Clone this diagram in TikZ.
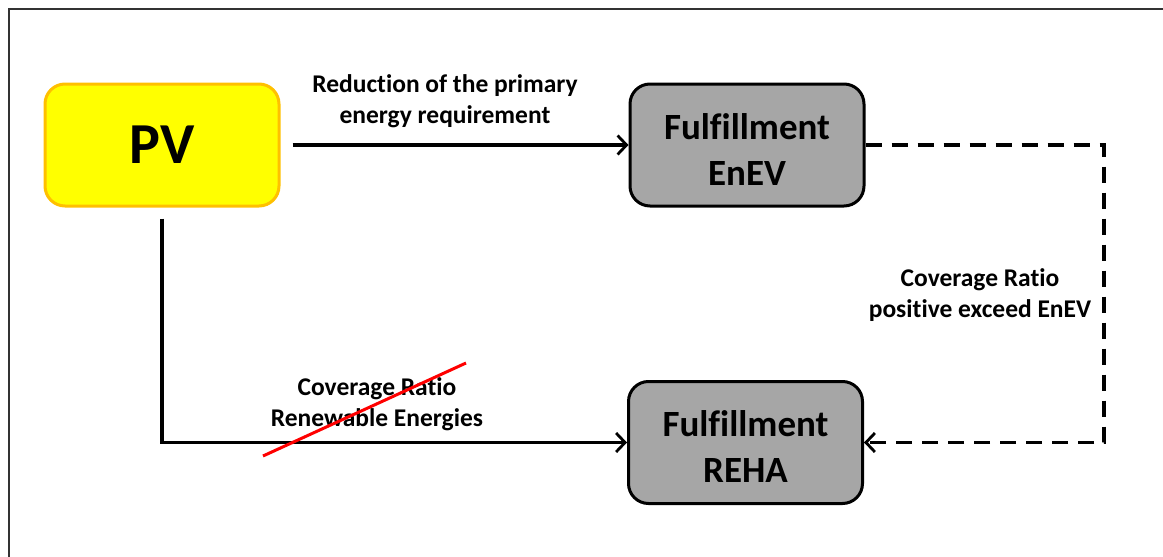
\documentclass[tikz,border=0pt]{standalone}
\usepackage{fontspec}
\setmainfont{Carlito}[Ligatures=NoCommon]
\usetikzlibrary{arrows.meta}
\definecolor{pvfill}{HTML}{FFFF00}
\definecolor{pvline}{HTML}{FFC000}
\definecolor{boxgray}{HTML}{A6A6A6}
% taller first line, so two-line box text sits slightly lower
\newcommand{\toplift}{\rule{0pt}{34pt}}
\begin{document}
\begin{tikzpicture}[x=1pt,y=-1pt,
  box/.style={rounded corners=20pt, line width=3pt, inner sep=0pt,
    minimum width=234pt, minimum height=122pt, align=center,
    font=\bfseries\fontsize{37}{46}\selectfont},
  pvbox/.style={box, draw=pvline, fill=pvfill, font=\bfseries\fontsize{58}{60}\selectfont},
  fbox/.style={box, draw=black, fill=boxgray},
  conn/.style={line width=3.2pt, -{Straight Barb[length=9pt,width=19pt,line width=2.8pt]}},
  dconn/.style={conn, dash pattern=on 16pt off 10pt},
  lbl/.style={align=center, inner sep=0pt, font=\bfseries\fontsize{25.5}{31}\selectfont},
  frameline/.style={line width=1.6pt, draw=black!80}]
\useasboundingbox (0,0) rectangle (1163,557);
% outer frame (top and left edges)
\draw[frameline] (9,557) -- (9,9) -- (1163,9);

% boxes
\node[pvbox] (pv) at (162,145) {PV};
\node[fbox] (enev) at (747,145) {\toplift Fulfillment\\EnEV};
\node[fbox] (reha) at (745.5,442.5) {\toplift Fulfillment\\REHA};

% connectors
\coordinate (c1) at (1104,145);
\draw[conn] ([xshift=12pt]pv.east) -- (enev.west);
\draw[conn] ([yshift=-11pt]pv.south) |- (reha.west);
\draw[dconn] (enev.east) -- (c1) |- (reha.east);

% labels
\node[lbl] (l1) at (445,101) {Reduction of the primary\\energy requirement};
\node[lbl] (l2) at (377,404) {Coverage Ratio\\Renewable Energies};
\node[lbl] (l3) at (980,295) {Coverage Ratio\\positive exceed EnEV};

% strike-through over the lower label
\draw[red, line width=3pt] (263,456) -- (466,363);
\end{tikzpicture}
\end{document}
